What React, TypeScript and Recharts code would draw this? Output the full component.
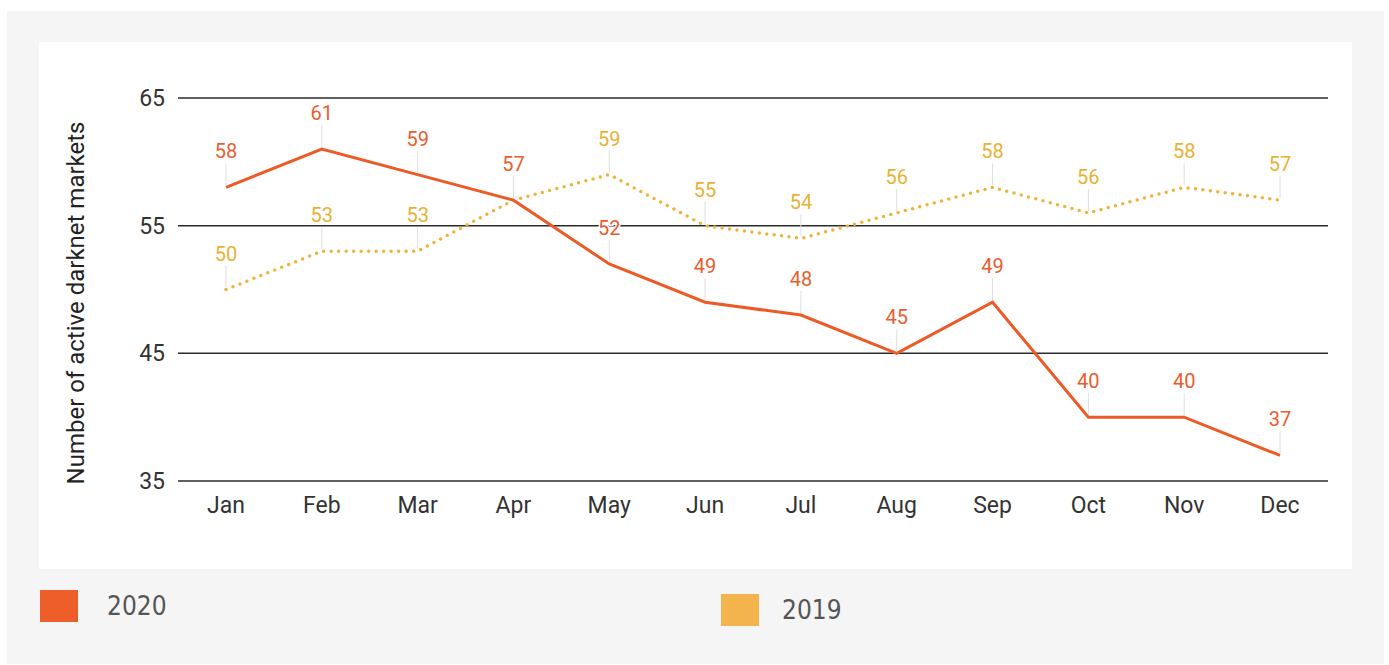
import { LineChart, Line, XAxis, YAxis, CartesianGrid, Legend } from 'recharts';

const months = ['Jan', 'Feb', 'Mar', 'Apr', 'May', 'Jun', 'Jul', 'Aug', 'Sep', 'Oct', 'Nov', 'Dec'];
const markets2020 = [58, 61, 59, 57, 52, 49, 48, 45, 49, 40, 40, 37];
const markets2019 = [50, 53, 53, 57, 59, 55, 54, 56, 58, 56, 58, 57];
const yTicks = [35, 45, 55, 65];
// 2019 April value sits under the 2020 label, the original only shows one of them
const hidden2019Labels = ['Apr'];

const data = months.map((m, i) => ({ month: m, y2020: markets2020[i], y2019: markets2019[i] }));

const ORANGE = '#ec5b27';
const GOLD = '#f1b13c';

const makeLabel = (color: string, skip: string[] = []) => (p: any) => {
  const { x, y, value, index } = p;
  if (skip.includes(months[index])) return null;
  return (
    <g>
      <line x1={x} x2={x} y1={y - 24} y2={y - 2} stroke="#dedede" strokeWidth={1} />
      <text x={x} y={y - 29} textAnchor="middle" fill={color} fontSize={20}
        stroke="#fff" strokeWidth={3} paintOrder="stroke">{value}</text>
    </g>
  );
};

const legendItems = [
  { name: '2020', color: '#ee5e2b', left: 1, top: 548, textLeft: 68 },
  { name: '2019', color: '#f3b44e', left: 682, top: 552, textLeft: 743 },
];

const LegendBox = () => (
  <div style={{ position: 'relative', width: 1313, height: 90 }}>
    {legendItems.map((it) => (
      <div key={it.name}>
        <div style={{ position: 'absolute', left: it.left, top: it.top - 548, width: 38, height: 32, background: it.color }} />
        <div style={{ position: 'absolute', left: it.textLeft, top: it.top - 548, height: 32, lineHeight: '32px',
          fontFamily: '"DejaVu Sans Condensed", "DejaVu Sans"', fontStretch: 'condensed', fontSize: 26, color: '#555' }}>{it.name}</div>
      </div>
    ))}
  </div>
);

export default function App() {
  return (
    <div style={{ position: 'absolute', left: 7, top: 11, width: 1377, height: 653, background: '#f5f5f5' }}>
      <div style={{ position: 'absolute', left: 32, top: 31, width: 1313, height: 527, background: '#fff', fontFamily: 'Roboto, sans-serif' }}>
        <LineChart width={1313} height={527} data={data} margin={{ top: 56, right: 24, left: 0, bottom: 0 }}>
          <CartesianGrid vertical={false} stroke="#2b2b2b" strokeWidth={1.5} />
          <XAxis dataKey="month" height={88} axisLine={false} tickLine={false} tickSize={0} tickMargin={16}
            padding={{ left: 48, right: 48 }} tick={{ fontSize: 23, fill: '#333' }} interval={0} />
          <YAxis width={139} domain={[35, 65]} ticks={yTicks} axisLine={false} tickLine={false} tickSize={0}
            tickMargin={13} tick={{ fontSize: 23, fill: '#333' }}
            label={{
              content: () => (
                <text x={37} y={261} transform="rotate(-90 37 261)" textAnchor="middle" dominantBaseline="central"
                  fontSize={24} fill="#222">Number of active darknet markets</text>
              ),
            }} />
          <Line dataKey="y2019" stroke={GOLD} strokeWidth={3.5} strokeDasharray="0 7.5" strokeLinecap="round"
            dot={false} activeDot={false} isAnimationActive={false} label={makeLabel('#e9b133', hidden2019Labels)} />
          <Line dataKey="y2020" stroke={ORANGE} strokeWidth={3} dot={false} activeDot={false}
            isAnimationActive={false} label={makeLabel('#e85d2e')} />
          <Legend layout="horizontal" verticalAlign="middle" align="center" content={() => <LegendBox />}
            wrapperStyle={{ left: 0, top: 548, width: 1313, height: 90 }} />
        </LineChart>
      </div>
    </div>
  );
}
